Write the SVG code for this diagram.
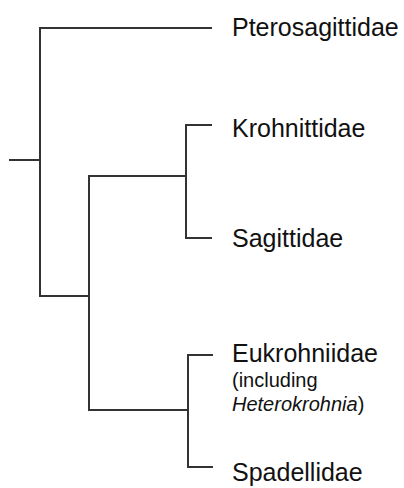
<svg xmlns="http://www.w3.org/2000/svg" width="404" height="488" viewBox="0 0 404 488">
<style>
.br{fill:none;stroke:#333;stroke-width:2;stroke-linecap:square}
.lb{font-family:"Liberation Sans",Arial,sans-serif;font-size:25px;fill:#111}
.sm{font-family:"Liberation Sans",Arial,sans-serif;font-size:20px;fill:#111}
</style>
<rect width="404" height="488" fill="#fff"/>
<g id="connectors">
<path class="br" d="M10 160H40"/>
<path class="br" d="M211 28H40V296H89"/>
<path class="br" d="M211 125H186V238H211"/>
<path class="br" d="M186 176H89V410H188"/>
<path class="br" d="M212 355H188V467H212"/>
</g>
<g id="pterosagittidae"><text class="lb" x="232" y="36">Pterosagittidae</text></g>
<g id="krohnittidae"><text class="lb" x="232" y="137">Krohnittidae</text></g>
<g id="sagittidae"><text class="lb" x="232" y="247">Sagittidae</text></g>
<g id="eukrohniidae"><text class="lb" x="232" y="362">Eukrohniidae</text>
<text class="sm" x="232" y="387">(including</text>
<text class="sm" x="232" y="411"><tspan font-style="italic">Heterokrohnia</tspan>)</text></g>
<g id="spadellidae"><text class="lb" x="232" y="481">Spadellidae</text></g>
</svg>
